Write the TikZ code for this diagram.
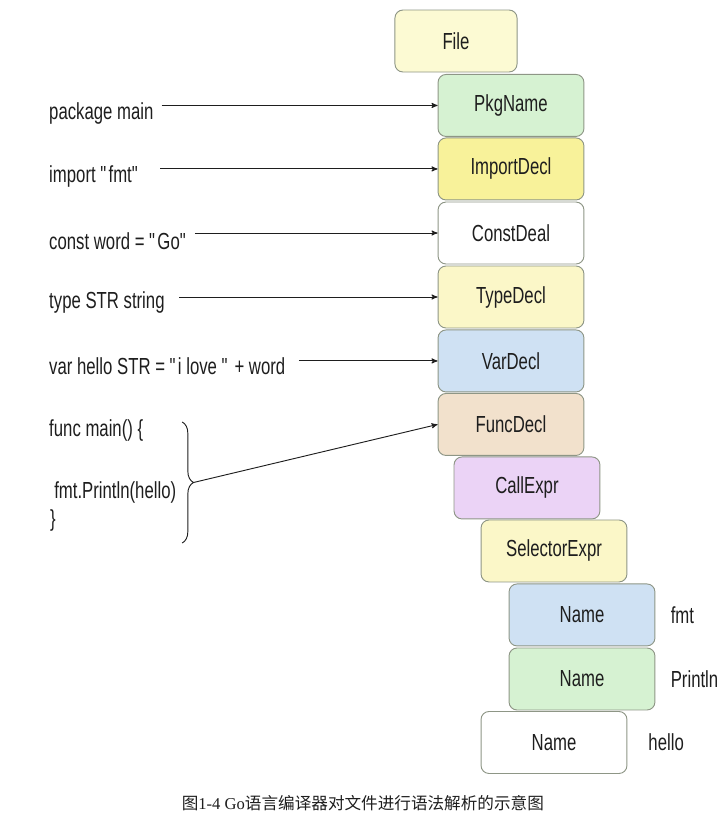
\documentclass[tikz,border=0pt]{standalone}
\usepackage{fontspec}
\setmainfont[FakeStretch=0.72]{Liberation Sans}
\newfontfamily\cjk{Noto Sans CJK SC}
\newfontfamily\capfont{Liberation Serif}
\usetikzlibrary{arrows,positioning,decorations.pathreplacing}
\tikzset{
	>=stealth',
}
\definecolor{boxline}{HTML}{8E9686}
\definecolor{textgrey}{HTML}{1E1E1E}
\definecolor{filefill}{HTML}{FCFAD3}
\definecolor{greenfill}{HTML}{D6F2D2}
\definecolor{importfill}{HTML}{F8F29A}
\definecolor{paleyellow}{HTML}{FBF7C8}
\definecolor{bluefill}{HTML}{CFE1F3}
\definecolor{peachfill}{HTML}{F2E1CC}
\definecolor{lilacfill}{HTML}{EBD3F6}
\newcommand{\dq}{\textquotedbl}

\begin{document}
\begin{tikzpicture}[
astnode/.style = {rectangle, rounded corners=6pt, draw=boxline, line width=0.7pt, minimum width=3.86cm, minimum height=1.64cm, font=\fontsize{17.5}{20}\selectfont, text=textgrey},
code/.style = {anchor=west, inner sep=0, font=\fontsize{17.5}{20}\selectfont, text=textgrey},
feed/.style = {->, draw=textgrey, line width=0.7pt}]
\useasboundingbox (0,0) rectangle (19.235,-22.04);
% AST boxes
\node[astnode,fill=filefill,minimum width=3.23cm] (file) at (12.065,-1.085) {File};
\node[astnode,fill=greenfill] (pkgname) at (13.52,-2.79) {PkgName};
\node[astnode,fill=importfill] (importdecl) at (13.52,-4.47) {ImportDecl};
\node[astnode,fill=white] (constdeal) at (13.52,-6.165) {ConstDeal};
\node[astnode,fill=paleyellow] (typedecl) at (13.52,-7.858) {TypeDecl};
\node[astnode,fill=bluefill] (vardecl) at (13.52,-9.55) {VarDecl};
\node[astnode,fill=peachfill] (funcdecl) at (13.52,-11.23) {FuncDecl};
\node[astnode,fill=lilacfill] (callexpr) at (13.943,-12.91) {CallExpr};
\node[astnode,fill=paleyellow] (selectorexpr) at (14.658,-14.578) {SelectorExpr};
\node[astnode,fill=bluefill] (namefmt) at (15.399,-16.27) {Name};
\node[astnode,fill=greenfill] (nameprintln) at (15.399,-17.965) {Name};
\node[astnode,fill=white] (namehello) at (14.658,-19.645) {Name};
\node[code,right=0.4cm of namefmt] (fmtlabel) {fmt};
\node[code,right=0.4cm of nameprintln] (printlnlabel) {Println};
\node[code,right=0.55cm of namehello] (hellolabel) {hello};
% source lines
\node[code] (pkgline) at (1.296,-3.0) {package main};
\node[code] (importline) at (1.296,-4.68) {import \dq fmt\dq};
\node[code] (constline) at (1.296,-6.37) {const word = \dq Go\dq};
\node[code] (typeline) at (1.296,-8.01) {type STR string};
\node[code] (varline) at (1.296,-9.68) {var hello STR = \dq i love \dq\ + word};
\node[code] (funcline) at (1.296,-11.40) {func main() \{};
\node[code] (printline) at (1.43,-13.04) {fmt.Println(hello)};
\node[code] (closeline) at (1.32,-13.78) {\}};
\draw[feed, shorten <=6pt] (pkgline.east |- pkgname.west) -- (pkgname.west);
\draw[feed, shorten <=15pt] (importline.east |- importdecl.west) -- (importdecl.west);
\draw[feed, shorten <=5pt] (constline.east |- constdeal.west) -- (constdeal.west);
\draw[feed, shorten <=11pt] (typeline.east |- typedecl.west) -- (typedecl.west);
\draw[feed, shorten <=10pt] (varline.east |- vardecl.west) -- (vardecl.west);
% brace round func main
\coordinate (bracetop) at (4.82,-11.165);
\coordinate (bracebot) at (4.82,-14.367);
\coordinate (bracetip) at (5.12,-12.766);
\draw[textgrey, line width=0.7pt, decorate, decoration={brace,amplitude=0.3cm}] (bracetop) -- (bracebot);
\draw[feed] (bracetip) -- (funcdecl.west);
% caption
\node[text=textgrey, font=\fontsize{12.5}{14}\selectfont] (caption) at (9.6,-21.25) {{\cjk 图}{\capfont 1-4 Go}{\cjk 语言编译器对文件进行语法解析的示意图}};
\end{tikzpicture}
\end{document}
